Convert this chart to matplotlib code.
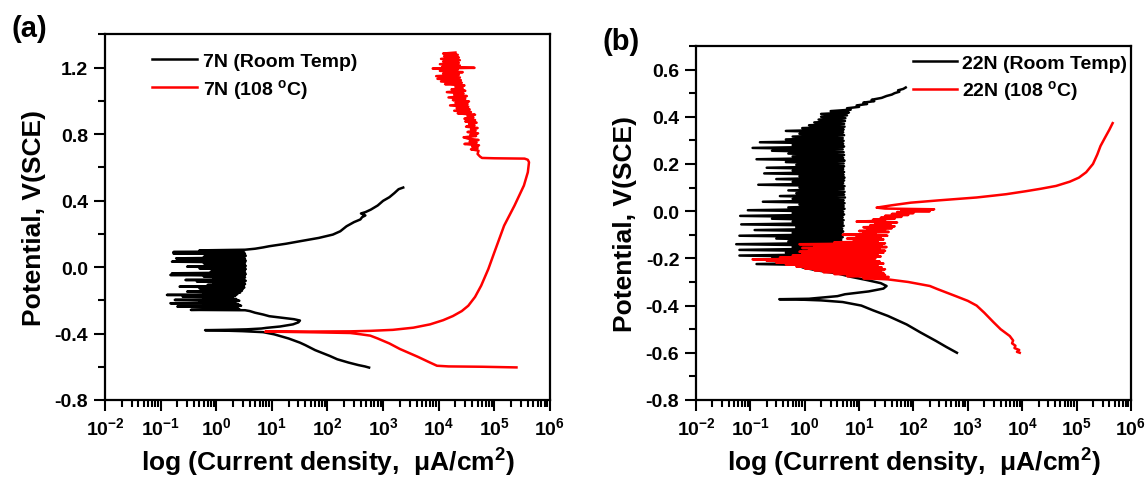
import numpy as np
import matplotlib
matplotlib.use('Agg')
import matplotlib.pyplot as plt
from matplotlib.ticker import LogLocator, MultipleLocator, FuncFormatter, NullFormatter

plt.rcParams['font.family'] = ['Liberation Sans', 'DejaVu Sans']
plt.rcParams['font.weight'] = 'bold'
plt.rcParams['axes.labelweight'] = 'bold'
plt.rcParams['mathtext.fontset'] = 'custom'
plt.rcParams['mathtext.rm'] = 'Liberation Sans:bold'
plt.rcParams['mathtext.it'] = 'Liberation Sans:bold'
plt.rcParams['mathtext.bf'] = 'Liberation Sans:bold'
plt.rcParams['mathtext.default'] = 'rm'
plt.rcParams['axes.unicode_minus'] = False

# ---- data: (potential V vs SCE, current density uA/cm2) ----
# (a) 7N, room temperature
rt7 = [
    (-0.605, 560), (-0.598, 470), (-0.590, 360), (-0.575, 240), (-0.555, 150),
    (-0.535, 110), (-0.500, 60), (-0.470, 40), (-0.455, 32), (-0.430, 20),
    (-0.405, 11), (-0.392, 7), (-0.386, 3), (-0.382, 1.2), (-0.380, 0.63),
    (-0.378, 1.5), (-0.375, 3.5), (-0.370, 6.5), (-0.366, 8), (-0.358, 14),
    (-0.345, 24), (-0.333, 30), (-0.322, 32), (-0.314, 25), (-0.305, 15),
    (-0.296, 9), (-0.286, 7), (-0.275, 5), (-0.265, 4), (-0.260, 3.3),
    (-0.258, 0.35), (-0.253, 2.6), (-0.248, 0.70), (-0.243, 2.4), (-0.238, 0.20),
    (-0.233, 2.8), (-0.228, 0.60), (-0.223, 2.5), (-0.218, 0.15), (-0.213, 2.2),
    (-0.208, 0.50), (-0.203, 2.6), (-0.198, 0.18), (-0.193, 2.3), (-0.188, 0.60),
    (-0.183, 2.0), (-0.178, 0.25), (-0.173, 2.2), (-0.168, 0.13), (-0.163, 2.4),
    (-0.158, 0.60), (-0.153, 2.7), (-0.148, 0.30), (-0.143, 2.9), (-0.138, 0.80),
    (-0.133, 3.0), (-0.128, 0.50), (-0.123, 3.2), (-0.118, 0.22), (-0.113, 3.1),
    (-0.108, 0.70), (-0.103, 3.3), (-0.098, 0.90), (-0.093, 3.2), (-0.088, 0.45),
    (-0.083, 3.4), (-0.078, 0.28), (-0.073, 3.1), (-0.068, 0.90), (-0.063, 3.3),
    (-0.058, 0.60), (-0.053, 3.2), (-0.048, 0.15), (-0.043, 3.4), (-0.038, 0.16),
    (-0.033, 3.3), (-0.028, 0.80), (-0.023, 3.2), (-0.018, 1.00), (-0.013, 3.4),
    (-0.008, 0.50), (-0.003, 3.3), (0.002, 0.30), (0.007, 3.4), (0.012, 0.90),
    (0.017, 3.2), (0.022, 0.60), (0.027, 3.3), (0.032, 0.16), (0.037, 3.4),
    (0.042, 0.70), (0.047, 3.3), (0.052, 0.19), (0.057, 3.2), (0.062, 0.60),
    (0.067, 3.4), (0.072, 0.70), (0.077, 3.3), (0.082, 0.17), (0.087, 3.2),
    (0.090, 0.17), (0.095, 3.0), (0.100, 0.50), (0.104, 3.3),
    (0.110, 5), (0.118, 7), (0.125, 9), (0.140, 18), (0.155, 32), (0.175, 70),
    (0.195, 125), (0.215, 170), (0.245, 220), (0.270, 300), (0.286, 390),
    (0.300, 420), (0.310, 480), (0.316, 440), (0.322, 400), (0.330, 480),
    (0.345, 600), (0.370, 800), (0.398, 1000), (0.420, 1300), (0.445, 1600),
    (0.468, 1900), (0.478, 2300),
]

# (a) 7N, 108 C
hot7 = [
    (-0.604, 250000), (-0.600, 60000), (-0.598, 15000), (-0.594, 9300),
    (-0.570, 6500), (-0.540, 4200), (-0.493, 2000), (-0.460, 1300),
    (-0.430, 800), (-0.413, 590), (-0.405, 400), (-0.397, 257), (-0.393, 60),
    (-0.390, 15), (-0.389, 7.6), (-0.388, 60), (-0.387, 257), (-0.384, 600),
    (-0.378, 1500), (-0.365, 3500), (-0.345, 7000), (-0.320, 12000),
    (-0.295, 18000), (-0.265, 26000), (-0.233, 34000), (-0.180, 45000),
    (-0.112, 58000), (-0.012, 78000), (0.088, 100000), (0.249, 150000),
    (0.369, 230000), (0.490, 340000), (0.570, 400000), (0.630, 420000),
    (0.645, 400000), (0.652, 350000), (0.654, 100000), (0.656, 60000),
    (0.665, 55000), (0.680, 50000),
    (0.700, 52000), (0.708, 38000), (0.716, 50000), (0.724, 40000), (0.732, 53000),
    (0.740, 29000), (0.748, 48000), (0.756, 36000), (0.764, 52000), (0.772, 34000),
    (0.780, 28000), (0.788, 47000), (0.796, 37000), (0.804, 51000), (0.812, 33000),
    (0.820, 46000), (0.828, 38000), (0.836, 50000), (0.844, 31000), (0.852, 44000),
    (0.860, 35000), (0.868, 48000), (0.876, 30000), (0.884, 45000), (0.892, 29000),
    (0.900, 42000), (0.908, 33000), (0.916, 45000), (0.924, 22000), (0.932, 38000),
    (0.940, 19000), (0.948, 36000), (0.956, 21000), (0.964, 34000), (0.972, 16000),
    (0.980, 33000), (0.988, 20000), (0.996, 35000), (1.004, 18000), (1.012, 30000),
    (1.020, 15000), (1.028, 32000), (1.036, 19000), (1.044, 28000), (1.052, 14000),
    (1.060, 30000), (1.068, 17000), (1.076, 27000), (1.084, 20000), (1.092, 29000),
    (1.100, 13000), (1.108, 26000), (1.116, 11000), (1.124, 25000), (1.132, 9500),
    (1.140, 24000), (1.148, 9000), (1.156, 23000), (1.164, 12000), (1.172, 27000),
    (1.180, 10500), (1.188, 22000), (1.194, 7800), (1.198, 44000), (1.204, 11500),
    (1.212, 24000), (1.220, 10500), (1.228, 23000), (1.236, 12000), (1.244, 24000),
    (1.252, 11000), (1.260, 23000), (1.268, 12500), (1.276, 22000), (1.284, 12000),
    (1.290, 20000),
]

# (b) 22N, room temperature
rt22 = [
    (-0.600, 630), (-0.575, 400), (-0.550, 260), (-0.514, 135), (-0.480, 75),
    (-0.444, 34), (-0.420, 18), (-0.400, 11), (-0.385, 5), (-0.378, 2),
    (-0.374, 0.7), (-0.373, 0.34), (-0.371, 1.2), (-0.366, 2.1), (-0.360, 4),
    (-0.352, 5.5), (-0.340, 15), (-0.328, 28), (-0.317, 32), (-0.305, 25),
    (-0.292, 14), (-0.278, 7), (-0.265, 4.2), (-0.250, 1.6), (-0.238, 0.9),
    (-0.230, 3.5), (-0.224, 0.13), (-0.218, 4.0), (-0.212, 0.50), (-0.206, 4.5),
    (-0.200, 0.25), (-0.194, 4.2), (-0.188, 0.063), (-0.182, 4.6), (-0.176, 0.45),
    (-0.170, 4.3), (-0.164, 0.063), (-0.158, 4.8), (-0.152, 0.60), (-0.146, 4.4),
    (-0.140, 0.055), (-0.134, 4.9), (-0.128, 0.50), (-0.122, 4.7), (-0.116, 0.30),
    (-0.110, 5.0), (-0.104, 0.063), (-0.098, 4.8), (-0.092, 0.60), (-0.086, 5.1),
    (-0.080, 0.12), (-0.074, 4.9), (-0.068, 0.70), (-0.062, 5.2), (-0.056, 0.068),
    (-0.050, 5.0), (-0.044, 0.60), (-0.038, 5.2), (-0.032, 0.25), (-0.026, 5.0),
    (-0.020, 0.065), (-0.014, 5.3), (-0.008, 0.60), (-0.002, 5.1), (0.004, 0.09),
    (0.010, 5.4), (0.016, 0.50), (0.022, 5.2), (0.028, 0.80), (0.034, 5.4),
    (0.040, 0.17), (0.046, 5.2), (0.052, 0.60), (0.058, 5.5), (0.064, 0.35),
    (0.070, 5.3), (0.076, 0.70), (0.082, 5.4), (0.088, 0.50), (0.094, 5.2),
    (0.100, 0.80), (0.106, 5.4), (0.112, 0.14), (0.118, 5.1), (0.124, 0.60),
    (0.130, 5.3), (0.136, 0.30), (0.142, 5.4), (0.148, 0.80), (0.154, 5.2),
    (0.160, 0.18), (0.166, 5.3), (0.172, 0.60), (0.178, 5.1), (0.184, 0.20),
    (0.190, 5.3), (0.196, 0.70), (0.202, 5.2), (0.208, 0.45), (0.214, 5.4),
    (0.220, 0.13), (0.226, 5.1), (0.232, 0.60), (0.238, 5.3), (0.244, 0.50),
    (0.250, 5.2), (0.256, 0.25), (0.262, 5.0), (0.268, 0.11), (0.274, 5.3),
    (0.280, 0.60), (0.286, 5.1), (0.292, 0.15), (0.298, 5.2), (0.304, 0.45),
    (0.310, 5.0), (0.316, 0.60), (0.322, 5.3), (0.328, 0.80), (0.334, 5.1),
    (0.340, 0.45), (0.346, 5.2), (0.352, 0.90), (0.358, 5.4), (0.364, 1.2),
    (0.370, 5.3), (0.376, 1.5), (0.382, 5.5), (0.388, 1.8), (0.394, 5.6),
    (0.400, 2.0), (0.406, 6.0), (0.412, 2.0), (0.418, 6.5), (0.424, 3.0),
    (0.430, 7), (0.436, 6), (0.442, 10), (0.448, 9), (0.454, 14), (0.460, 12),
    (0.466, 19), (0.472, 17), (0.480, 26), (0.488, 32), (0.494, 40), (0.500, 45),
    (0.506, 55), (0.512, 52), (0.518, 65), (0.524, 72),
]

# (b) 22N, 108 C
hot22 = [
    (-0.600, 9000), (-0.596, 8000), (-0.588, 8800), (-0.580, 7200), (-0.570, 7500),
    (-0.560, 6500), (-0.548, 6800), (-0.529, 5900), (-0.500, 4000), (-0.470, 2950),
    (-0.430, 2000), (-0.400, 1450), (-0.380, 1000), (-0.360, 600), (-0.330, 275),
    (-0.317, 200), (-0.300, 80), (-0.289, 34),
    (-0.284, 12), (-0.279, 35), (-0.275, 6), (-0.270, 30), (-0.266, 3.5),
    (-0.262, 28), (-0.258, 2.2), (-0.254, 25), (-0.250, 1.5), (-0.246, 30),
    (-0.242, 1.0), (-0.238, 26), (-0.234, 0.7), (-0.230, 22), (-0.226, 0.45),
    (-0.222, 28), (-0.218, 0.3), (-0.214, 24), (-0.210, 0.2), (-0.206, 18),
    (-0.204, 0.11), (-0.200, 20), (-0.196, 0.35), (-0.192, 25), (-0.188, 0.6),
    (-0.184, 22), (-0.180, 0.9), (-0.176, 28), (-0.172, 0.8), (-0.168, 30),
    (-0.164, 1.2), (-0.160, 24), (-0.156, 0.9), (-0.152, 32), (-0.148, 1.5),
    (-0.144, 26), (-0.140, 0.8), (-0.136, 30), (-0.132, 3.5), (-0.128, 22),
    (-0.124, 8), (-0.120, 28), (-0.116, 6), (-0.112, 25), (-0.108, 9),
    (-0.104, 33), (-0.100, 5), (-0.096, 20), (-0.092, 12), (-0.088, 35),
    (-0.084, 10), (-0.080, 30), (-0.076, 14), (-0.072, 40), (-0.068, 12),
    (-0.064, 45), (-0.060, 16), (-0.056, 38), (-0.052, 20), (-0.048, 50),
    (-0.044, 9), (-0.040, 30), (-0.036, 18), (-0.032, 45), (-0.028, 25),
    (-0.024, 60), (-0.020, 30), (-0.016, 80), (-0.012, 40), (-0.008, 100),
    (-0.004, 50), (0.000, 200), (0.004, 60), (0.008, 240), (0.011, 30),
    (0.015, 21), (0.025, 40), (0.036, 89), (0.046, 300), (0.058, 1450),
    (0.066, 3000), (0.072, 5100), (0.085, 12000), (0.095, 22000), (0.107, 42000),
    (0.125, 75000), (0.142, 110000), (0.165, 150000), (0.200, 200000),
    (0.240, 240000), (0.276, 275000), (0.310, 330000), (0.345, 400000),
    (0.373, 460000),
]

decades = np.arange(-2, 7)


def unzip(pairs):
    E = np.array([p[0] for p in pairs])
    I = np.array([p[1] for p in pairs])
    return E, I


def style_axes(ax, ylim, major, minor):
    ax.set_xscale('log')
    ax.set_xlim(10.0 ** decades[0], 10.0 ** decades[-1])
    ax.set_ylim(*ylim)
    ax.xaxis.set_major_locator(LogLocator(base=10, numticks=20))
    ax.xaxis.set_minor_locator(LogLocator(base=10, subs=np.arange(2, 10), numticks=20))
    ax.xaxis.set_major_formatter(FuncFormatter(lambda v, p: r'$10^{%d}$' % round(np.log10(v))))
    ax.xaxis.set_minor_formatter(NullFormatter())
    ax.yaxis.set_major_locator(MultipleLocator(major))
    ax.yaxis.set_minor_locator(MultipleLocator(minor))
    ax.yaxis.set_major_formatter(FuncFormatter(lambda v, p: '%.1f' % (round(v, 1) + 0.0)))
    ax.tick_params(which='both', direction='out', top=False, right=False, width=1.5,
                   labelsize=14, pad=4)
    ax.tick_params(which='major', length=8)
    ax.tick_params(which='minor', length=5)
    for s in ax.spines.values():
        s.set_linewidth(1.6)
    ax.set_xlabel(r'log (Current density,  μA/cm$^{2}$)', fontsize=19, labelpad=5)
    ax.set_ylabel('Potential, V(SCE)', fontsize=19, labelpad=6)


fig = plt.figure(figsize=(11.46, 4.85), dpi=100)
ax1 = fig.add_axes([0.0916, 0.1732, 0.3883, 0.7541])
ax2 = fig.add_axes([0.6073, 0.1732, 0.3796, 0.7300])

E, I = unzip(rt7)
ax1.plot(I, E, color='black', lw=1.8, label='7N (Room Temp)')
E, I = unzip(hot7)
ax1.plot(I, E, color='#ff0000', lw=1.8, label=r'7N (108 $^{o}$C)')
style_axes(ax1, (-0.8, 1.4), 0.4, 0.2)
ax1.legend(loc='upper left', bbox_to_anchor=(0.084, 0.977), frameon=False, fontsize=14,
           handlelength=2.3, handletextpad=0.3, labelspacing=0.35, borderpad=0)

E, I = unzip(rt22)
ax2.plot(I, E, color='black', lw=1.8, label='22N (Room Temp)')
E, I = unzip(hot22)
ax2.plot(I, E, color='#ff0000', lw=1.8, label=r'22N (108 $^{o}$C)')
style_axes(ax2, (-0.8, 0.7), 0.2, 0.1)
ax2.legend(loc='upper left', bbox_to_anchor=(0.476, 1.005), frameon=False, fontsize=14,
           handlelength=2.3, handletextpad=0.25, labelspacing=0.35, borderpad=0)

fig.text(0.010, 0.924, '(a)', fontsize=21, fontweight='bold')
fig.text(0.526, 0.897, '(b)', fontsize=21, fontweight='bold')

fig.savefig('out.png', dpi=100)
